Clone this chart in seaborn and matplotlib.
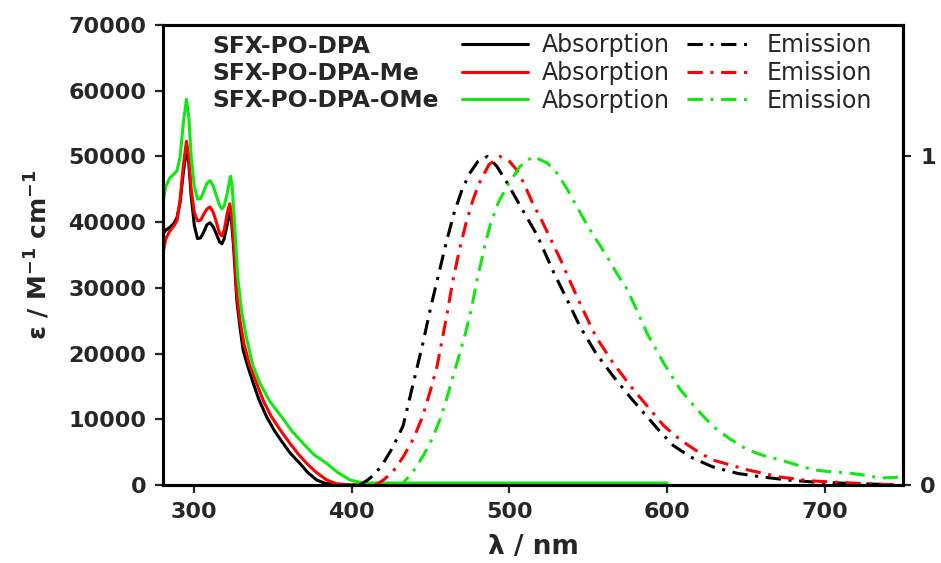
import numpy as np
import pandas as pd
import matplotlib
matplotlib.use("Agg")
import matplotlib.pyplot as plt
import seaborn as sns

# ---------------- data ----------------
compounds = ["SFX-PO-DPA", "SFX-PO-DPA-Me", "SFX-PO-DPA-OMe"]
colors = ["#000000", "#ff0000", "#10e810"]

abs_wl_dpa = [280, 282, 284.5, 287, 289, 291, 293, 295, 296.5, 298, 300, 302, 304, 306, 308, 310,
              312, 314, 316, 317.5, 319, 321, 322.5, 323.5, 325, 327, 329, 331, 334, 337.4, 341,
              345.9, 351, 356.4, 361, 367, 372, 377.6, 383, 390, 400, 450, 500, 550, 600]
abs_dpa = [38200, 38800, 39200, 39800, 40700, 43000, 47500, 51000, 49000, 44000, 39500, 37500,
           37600, 38500, 39600, 39900, 39300, 38200, 37000, 36700, 37500, 39800, 41400, 40500,
           36000, 28000, 24000, 20500, 18000, 15500, 13000, 10370, 8200, 6330, 4800, 3290, 1900,
           760, 250, 30, 0, 0, 0, 0, 0]

abs_wl_me = [280, 282, 284.5, 287, 289, 291, 293, 295, 296.5, 298, 300, 302, 304, 306, 308, 310,
             312, 314, 316, 317.5, 319, 321, 322.5, 323.5, 325, 327, 329, 331.5, 335, 339.5, 344,
             349, 355, 360.7, 366, 371.3, 377, 384, 390, 397, 405, 450, 500, 550, 600]
abs_me = [35200, 37500, 38700, 39400, 40200, 43500, 48500, 52300, 50000, 45000, 41500, 40200,
          40300, 41200, 42000, 42300, 41500, 40000, 38300, 37900, 38800, 41500, 42800, 41500,
          37000, 29000, 25000, 21500, 18300, 15500, 12700, 10370, 8200, 6330, 4700, 3290, 2000,
          760, 200, 30, 0, 0, 0, 0, 0]

abs_wl_ome = [280, 282, 284.4, 287, 289, 291, 293, 295, 296.5, 298, 300, 302, 304, 306, 308, 310,
              312, 314, 316, 317.5, 319, 321, 323, 324, 325.5, 327.6, 330, 333, 337, 341.6, 348,
              355.4, 362, 369, 376, 384, 391, 398.8, 405, 410, 450, 500, 550, 600]
abs_ome = [42800, 45500, 46700, 47300, 47800, 50000, 55000, 58700, 56000, 50000, 45500, 43500,
           43600, 44700, 45900, 46300, 45500, 44000, 42600, 42000, 42500, 44500, 47000, 45500,
           40000, 31600, 26500, 22500, 18300, 15500, 12700, 10370, 8200, 6330, 4600, 3290, 1900,
           760, 400, 300, 300, 300, 300, 300]

em_wl_dpa = [405, 410, 415, 420, 426, 432.5, 440, 445, 450, 455, 460, 465, 470, 475, 480, 486,
             492, 498.5, 506.8, 517.6, 527.8, 538, 545, 555, 566, 577, 587.5, 596, 604, 615, 629,
             645, 661, 677, 693, 715, 748]
em_dpa = [0.0, 0.015, 0.035, 0.067, 0.115, 0.18, 0.33, 0.43, 0.54, 0.64, 0.74, 0.83, 0.90, 0.95,
          0.985, 1.0, 0.97, 0.92, 0.85, 0.76, 0.65, 0.55, 0.48, 0.40, 0.33, 0.265, 0.207, 0.16,
          0.12, 0.085, 0.055, 0.035, 0.024, 0.015, 0.009, 0.005, 0.0]

em_wl_me = [415, 420, 426, 432.5, 439, 445, 450, 454, 460, 464, 468, 472.6, 477, 481, 487, 494,
            500, 504.4, 509, 514.5, 521, 527, 533, 538, 545, 555, 566, 577, 587.5, 598, 608.5,
            620, 629, 651, 672, 690, 704, 725, 748]
em_me = [0.0, 0.015, 0.04, 0.085, 0.14, 0.21, 0.29, 0.36, 0.51, 0.62, 0.71, 0.80, 0.87, 0.92,
         0.975, 1.0, 0.985, 0.96, 0.92, 0.86, 0.80, 0.74, 0.68, 0.625, 0.55, 0.45, 0.37, 0.30,
         0.24, 0.18, 0.137, 0.10, 0.076, 0.046, 0.024, 0.013, 0.009, 0.004, 0.0]

em_wl_ome = [428, 432.5, 437, 441, 446, 451.5, 456, 460, 466, 472, 476, 479.5, 484, 487.7, 493,
             498.5, 506.8, 515, 524, 530, 536.7, 543, 549.4, 556, 562, 568, 574.8, 581, 587.5,
             598, 608.5, 619, 629.4, 640, 651, 661, 672, 683, 693, 704, 714.6, 725, 735.5, 748]
em_ome = [0.0, 0.006, 0.03, 0.055, 0.095, 0.146, 0.20, 0.26, 0.36, 0.46, 0.54, 0.625, 0.72, 0.79,
          0.86, 0.91, 0.97, 1.0, 0.98, 0.95, 0.90, 0.845, 0.79, 0.74, 0.695, 0.645, 0.595, 0.53,
          0.46, 0.37, 0.29, 0.23, 0.177, 0.14, 0.107, 0.09, 0.076, 0.06, 0.046, 0.04, 0.037,
          0.03, 0.021, 0.024]

x_ticks = [300, 400, 500, 600, 700]
y_ticks = [0, 10000, 20000, 30000, 40000, 50000, 60000, 70000]
y2_ticks = [0, 1]

abs_sets = [(abs_wl_dpa, abs_dpa), (abs_wl_me, abs_me), (abs_wl_ome, abs_ome)]
em_sets = [(em_wl_dpa, em_dpa), (em_wl_me, em_me), (em_wl_ome, em_ome)]

# ---------------- figure ----------------
sns.set_style("ticks")
plt.rcParams["font.family"] = ["DejaVu Sans"]
plt.rcParams["mathtext.default"] = "regular"

fig = plt.figure(figsize=(9.41, 5.63), dpi=100)
ax = fig.add_axes([0.173, 0.1386, 0.787, 0.817])
ax2 = ax.twinx()

lw = 2.2
abs_lines = []
em_lines = []
for (wl, v), c in zip(abs_sets, colors):
    df = pd.DataFrame({"wl": wl, "v": v})
    sns.lineplot(data=df, x="wl", y="v", ax=ax, color=c, lw=lw, sort=False, estimator=None)
    abs_lines.append(ax.lines[-1])
for (wl, v), c in zip(em_sets, colors):
    df = pd.DataFrame({"wl": wl, "v": v})
    sns.lineplot(data=df, x="wl", y="v", ax=ax2, color=c, lw=lw, sort=False, estimator=None,
                 linestyle=(0, (5, 2.5, 1, 2.5)))
    em_lines.append(ax2.lines[-1])

ax.set_xlim(280, 750)
ax.set_ylim(0, 70000)
ax2.set_ylim(0, 1.4)
ax.set_xticks(x_ticks)
ax.set_yticks(y_ticks)
ax2.set_yticks(y2_ticks)
ax2.set_yticklabels([str(t) for t in y2_ticks])

for a in (ax, ax2):
    for s in a.spines.values():
        s.set_linewidth(2.2)
        s.set_color("black")
        s.set_visible(True)
ax.tick_params(axis="both", direction="out", length=6, width=1.6, labelsize=16, pad=6)
ax2.tick_params(axis="y", direction="out", length=6, width=1.6, labelsize=16, pad=6)
for lab in ax.get_xticklabels() + ax.get_yticklabels() + ax2.get_yticklabels():
    lab.set_fontweight("bold")

ax.set_xlabel("λ / nm", fontsize=19, fontweight="bold", labelpad=9)
ax.set_ylabel("ε / M$^{-1}$ cm$^{-1}$", fontsize=18, fontweight="bold")
ax.yaxis.set_label_coords(-0.15, 0.5)
ax2.set_ylabel("")

# legend: compound names + absorption / emission line samples
name_y = [0.954, 0.895, 0.836]
for name, yy in zip(compounds, name_y):
    ax.text(0.0676, yy, name, transform=ax.transAxes, fontsize=16.8, fontweight="bold",
            va="center", ha="left")

handles = abs_lines + em_lines
labels = ["Absorption"] * 3 + ["Emission"] * 3
leg = ax2.legend(handles, labels, ncol=2, loc="upper left", bbox_to_anchor=(0.398, 0.992),
                 frameon=False, fontsize=17, handlelength=2.8, handletextpad=0.55,
                 columnspacing=0.75, labelspacing=0.155, borderpad=0.2, borderaxespad=0)

fig.savefig("out.png", dpi=100)
